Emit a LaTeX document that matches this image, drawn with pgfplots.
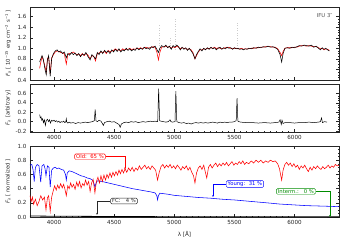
\documentclass[border=0pt]{standalone}
\usepackage{fontspec}
\setmainfont{DejaVu Sans}
\usepackage{pgfplots}
\usepackage{pgfplotstable}
\pgfplotsset{compat=1.18}
\usetikzlibrary{arrows.meta}

\definecolor{oldred}{RGB}{255,0,0}
\definecolor{youngblue}{RGB}{0,0,255}
\definecolor{intgreen}{RGB}{0,140,0}
\definecolor{fcgray}{RGB}{40,40,40}

\pgfplotstableread{
x obs mod
3880 0.74 0.62
3890 0.80 0.74
3900 0.86 0.84
3910 0.80 0.78
3925 0.60 0.65
3935 0.50 0.55
3945 0.78 0.80
3955 0.86 0.84
3968 0.47 0.52
3980 0.80 0.82
3995 0.90 0.88
4010 0.95 0.93
4025 0.97 0.95
4040 0.93 0.94
4055 0.95 0.92
4070 0.90 0.91
4085 0.93 0.90
4102 0.82 0.70
4115 0.90 0.89
4130 0.87 0.90
4145 0.92 0.91
4160 0.88 0.93
4175 0.91 0.90
4190 0.86 0.88
4205 0.90 0.89
4220 0.84 0.86
4235 0.89 0.90
4250 0.87 0.86
4265 0.92 0.90
4280 0.85 0.88
4300 0.78 0.80
4315 0.88 0.86
4330 0.84 0.85
4345 0.80 0.76
4360 0.92 0.90
4375 0.88 0.91
4390 0.95 0.93
4405 0.90 0.92
4420 0.96 0.94
4435 0.92 0.90
4450 0.95 0.96
4465 0.90 0.93
4480 0.97 0.95
4495 0.93 0.96
4510 0.98 0.99
4525 0.94 0.96
4540 0.99 0.97
4555 0.93 0.95
4570 0.97 0.99
4585 0.95 0.97
4600 1.00 0.98
4615 0.96 0.98
4630 0.99 1.00
4645 0.95 0.97
4660 0.98 0.99
4675 0.96 0.98
4690 1.01 1.00
4705 0.97 0.99
4720 1.00 1.01
4735 0.98 0.99
4750 1.02 1.01
4765 0.99 1.02
4780 1.01 1.00
4795 0.98 1.01
4810 1.03 1.02
4825 1.01 1.03
4840 1.04 1.02
4855 0.98 0.93
4868 0.92 0.78
4880 1.00 0.92
4895 1.05 1.02
4915 1.02 1.03
4930 1.06 1.04
4945 1.01 1.02
4960 1.04 1.03
4975 0.98 1.00
4990 1.05 1.03
5005 1.02 1.01
5020 1.06 1.04
5035 1.03 1.02
5050 0.97 0.99
5065 1.02 1.01
5080 0.98 1.00
5095 1.01 0.99
5110 0.96 0.98
5125 1.00 0.99
5140 0.95 0.97
5155 0.90 0.92
5172 0.80 0.80
5185 0.88 0.86
5200 0.94 0.93
5215 0.99 0.97
5230 0.95 0.97
5245 1.00 0.99
5260 0.97 0.98
5275 1.01 1.00
5290 0.98 0.99
5305 1.02 1.01
5320 0.99 1.00
5335 1.01 1.02
5350 0.97 0.99
5365 1.00 1.01
5380 1.02 1.00
5395 0.98 0.99
5410 1.01 1.00
5425 0.99 1.01
5440 1.02 1.01
5455 1.00 1.02
5470 1.01 1.00
5485 0.98 0.99
5500 1.01 1.00
5515 0.99 1.00
5530 1.00 0.99
5545 0.98 0.99
5560 0.99 1.00
5575 0.97 0.98
5590 0.99 0.99
5605 0.98 0.99
5620 1.00 0.99
5640 0.99 1.00
5660 1.01 1.00
5680 1.00 1.01
5700 1.02 1.01
5720 1.01 1.02
5740 1.03 1.02
5760 1.02 1.03
5780 1.04 1.03
5800 1.02 1.03
5820 1.03 1.02
5840 1.01 1.02
5860 0.98 0.99
5880 0.88 0.92
5893 0.74 0.86
5905 0.90 0.94
5920 1.00 1.00
5940 1.01 1.01
5960 1.00 1.01
5980 1.02 1.01
6000 1.01 1.02
6020 1.03 1.02
6040 1.05 1.04
6060 1.04 1.05
6080 1.06 1.05
6100 1.05 1.04
6120 1.04 1.05
6140 1.06 1.04
6160 1.02 1.03
6180 1.04 1.03
6200 1.00 1.01
6215 0.97 0.99
6230 1.01 1.00
6245 0.98 0.97
6260 1.00 0.99
6275 0.97 0.98
6290 0.95 0.96
}\spec

\pgfplotsset{
  every axis/.append style={
    scale only axis, width=309pt, xmin=3800, xmax=6370,
    anchor=south west,
    tick align=inside,
    major tick length=2.6pt, minor tick length=1.3pt,
    xtick={4000,4500,5000,5500,6000},
    minor x tick num=9, minor y tick num=3,
    xtick pos=both, ytick pos=both,
    every tick/.style={black!85, line width=0.35pt},
    axis line style={black!85, line width=0.5pt},
    /pgf/number format/assume math mode=true,
    tick label style={font=\fontsize{5.6}{6.5}\selectfont, black!85},
    xticklabel style={/pgf/number format/1000 sep={}},
    yticklabel style={/pgf/number format/.cd, fixed, fixed zerofill, precision=1},
    ylabel style={at={(axis description cs:-0.071,0.5)}, anchor=center, font=\fontsize{5.3}{6}\selectfont, black!85},
    xlabel style={font=\fontsize{5.6}{6.5}\selectfont, black!85},
    clip=true,
  }
}

\begin{document}
\begin{tikzpicture}
\useasboundingbox (0,0) rectangle (346pt,242pt);

% ---------------- Panel 1 ----------------
\begin{axis}[at={(30pt,162pt)}, height=73pt,
  ymin=0.4, ymax=1.78, ytick={0.4,0.6,0.8,1.0,1.2,1.4,1.6},
  xticklabels={},
  ylabel={\textit{F}\textsubscript{λ} [ 10\textsuperscript{−15} erg cm\textsuperscript{−2} s\textsuperscript{−1} ]}]
\addplot[gray!40, dotted, line width=0.5pt] coordinates {(4875,1.0) (4875,1.45)};
\addplot[gray!40, dotted, line width=0.5pt] coordinates {(4970,1.0) (4970,1.20)};
\addplot[gray!40, dotted, line width=0.5pt] coordinates {(5012,0.98) (5012,1.56)};
\addplot[gray!40, dotted, line width=0.5pt] coordinates {(5525,1.0) (5525,1.50)};
\addplot[oldred, line width=0.55pt] table[x=x, y=mod] {\spec};
\addplot[black, line width=0.55pt] table[x=x, y=obs] {\spec};
\node[anchor=north east, font=\fontsize{5.3}{6}\selectfont, text=black!70] at (axis description cs:0.99,0.96) {IFU 3″};
\end{axis}

% ---------------- Panel 2 ----------------
\begin{axis}[at={(30pt,110pt)}, height=48pt,
  ymin=-0.22, ymax=0.8, ytick={-0.2,0,0.2,0.4,0.6},
  ylabel={\textit{F}\textsubscript{λ} [arbitrary]}]
\addplot[black, line width=0.5pt] coordinates {
(3880,0.15) (3886,0.08) (3892,0.10) (3898,0.03) (3905,0.06) (3912,-0.02) (3920,0.04) (3928,-0.08)
(3935,0.02) (3945,0.05) (3955,0.00) (3962,0.04) (3970,-0.03) (3980,0.03) (3990,0.01) (4000,0.03)
(4010,0.00) (4020,0.02) (4030,-0.01) (4040,0.01) (4050,-0.02) (4060,0.00) (4070,-0.01) (4080,0.01)
(4090,-0.02) (4098,0.00) (4102,0.06) (4106,-0.01) (4115,-0.03) (4125,-0.01) (4140,-0.03) (4160,-0.02)
(4180,-0.04) (4200,-0.02) (4220,-0.03) (4240,-0.02) (4260,-0.01) (4280,-0.02) (4300,-0.01) (4320,0.00)
(4335,0.02) (4342,0.26) (4349,0.02) (4360,0.00) (4375,0.03) (4390,0.01) (4400,-0.03) (4410,-0.08)
(4420,-0.02) (4440,0.00) (4460,0.01) (4480,-0.01) (4500,0.00) (4520,-0.03) (4540,-0.06) (4550,-0.12)
(4560,-0.05) (4580,-0.02) (4600,-0.01) (4620,-0.02) (4640,0.00) (4660,-0.01) (4680,0.00) (4700,-0.02)
(4720,-0.01) (4740,0.00) (4760,-0.01) (4780,0.00) (4800,0.01) (4820,0.00) (4840,0.01) (4862,0.00)
(4870,0.70) (4878,0.02) (4890,0.01) (4910,0.00) (4930,-0.01) (4950,0.00) (4965,0.04) (4972,0.00)
(4985,-0.01) (5006,0.00) (5013,0.65) (5021,0.00) (5040,-0.02) (5060,-0.03) (5080,-0.02) (5100,-0.04)
(5120,-0.03) (5140,-0.05) (5160,-0.03) (5180,-0.02) (5200,-0.03) (5220,-0.02) (5240,-0.03) (5260,-0.02)
(5280,-0.03) (5300,-0.02) (5320,-0.01) (5340,-0.02) (5360,-0.03) (5380,-0.01) (5400,-0.02) (5420,-0.01)
(5440,-0.02) (5460,-0.01) (5480,-0.01) (5500,0.00) (5515,0.02) (5522,0.50) (5529,0.01) (5550,-0.01)
(5600,-0.02) (5650,-0.02) (5700,-0.03) (5750,-0.02) (5800,-0.03) (5840,-0.02) (5870,-0.01) (5880,0.04)
(5890,-0.06) (5896,0.03) (5905,-0.04) (5920,-0.02) (5960,-0.02) (6000,-0.03) (6040,-0.02) (6080,-0.02)
(6120,-0.01) (6160,-0.02) (6200,-0.01) (6215,0.00) (6225,0.08) (6232,-0.02) (6250,0.00) (6270,-0.01)
};
\end{axis}

% ---------------- Panel 3 ----------------
\begin{axis}[at={(30pt,25pt)}, height=71pt,
  ymin=0, ymax=1.0, ytick={0,0.2,0.4,0.6,0.8,1.0},
  ylabel={\textit{F}\textsubscript{λ} [ normalized ]},
  xlabel={λ [Å]}]
% Young (blue)
\addplot[youngblue, line width=0.55pt] coordinates {
(3800,0.73) (3815,0.74) (3826,0.66) (3835,0.50) (3845,0.70) (3860,0.74) (3875,0.72) (3889,0.49)
(3900,0.72) (3915,0.74) (3925,0.68) (3933,0.58) (3945,0.72) (3958,0.70) (3968,0.42) (3980,0.66)
(3995,0.69) (4010,0.70) (4025,0.68) (4040,0.69) (4060,0.67) (4080,0.66) (4095,0.60) (4102,0.52)
(4110,0.62) (4125,0.65) (4150,0.64) (4175,0.62) (4200,0.60) (4225,0.58) (4250,0.57) (4275,0.55)
(4300,0.54) (4320,0.52) (4333,0.47) (4340,0.42) (4348,0.47) (4360,0.51) (4400,0.50) (4450,0.48)
(4500,0.46) (4550,0.44) (4600,0.42) (4650,0.40) (4700,0.385) (4750,0.37) (4800,0.355) (4840,0.34)
(4855,0.30) (4861,0.24) (4868,0.30) (4880,0.335) (4950,0.32) (5000,0.305) (5100,0.29) (5200,0.275)
(5300,0.265) (5400,0.25) (5500,0.24) (5600,0.225) (5700,0.21) (5800,0.195) (5890,0.18) (5900,0.18)
(6000,0.17) (6100,0.16) (6200,0.155) (6300,0.15) (6370,0.145)
};
% FC (black)
\addplot[black, line width=0.8pt] coordinates {(3800,0.014) (4000,0.011) (4500,0.007) (5000,0.004) (6370,0.002)};
% Old (red)
\addplot[oldred, line width=0.55pt] coordinates {
(3800,0.30) (3810,0.22) (3820,0.28) (3830,0.18) (3845,0.25) (3860,0.16) (3875,0.22) (3890,0.30)
(3905,0.24) (3920,0.28) (3933,0.10) (3945,0.27) (3955,0.30) (3968,0.08) (3980,0.28) (3992,0.36)
(4005,0.44) (4018,0.38) (4030,0.45) (4042,0.40) (4055,0.47) (4068,0.41) (4080,0.46) (4092,0.38)
(4102,0.30) (4114,0.44) (4126,0.40) (4138,0.48) (4150,0.42) (4162,0.46) (4175,0.39) (4188,0.49)
(4200,0.43) (4212,0.50) (4225,0.41) (4238,0.47) (4250,0.44) (4262,0.52) (4275,0.45) (4288,0.50)
(4300,0.36) (4312,0.48) (4325,0.53) (4340,0.34) (4352,0.50) (4365,0.56) (4378,0.48) (4390,0.58)
(4402,0.50) (4415,0.59) (4428,0.52) (4440,0.60) (4452,0.55) (4465,0.62) (4478,0.56) (4490,0.63)
(4502,0.58) (4515,0.64) (4528,0.59) (4540,0.66) (4552,0.61) (4565,0.67) (4578,0.62) (4590,0.68)
(4605,0.63) (4620,0.69) (4635,0.65) (4650,0.70) (4665,0.64) (4680,0.69) (4695,0.66) (4710,0.72)
(4725,0.67) (4740,0.70) (4755,0.73) (4770,0.68) (4785,0.71) (4800,0.67) (4815,0.72) (4830,0.69)
(4845,0.66) (4861,0.52) (4875,0.63) (4890,0.71) (4905,0.74) (4920,0.69) (4935,0.73) (4950,0.70)
(4965,0.74) (4980,0.69) (4995,0.72) (5010,0.68) (5025,0.73) (5040,0.70) (5055,0.66) (5070,0.71)
(5085,0.68) (5100,0.72) (5115,0.66) (5130,0.70) (5145,0.63) (5160,0.58) (5172,0.48) (5185,0.62)
(5200,0.69) (5215,0.72) (5230,0.67) (5245,0.73) (5260,0.62) (5270,0.55) (5285,0.70) (5300,0.74)
(5315,0.69) (5330,0.73) (5345,0.76) (5360,0.71) (5375,0.75) (5390,0.72) (5405,0.76) (5420,0.73)
(5435,0.77) (5450,0.72) (5465,0.75) (5480,0.78) (5495,0.73) (5510,0.76) (5525,0.74) (5540,0.78)
(5555,0.75) (5570,0.79) (5585,0.74) (5600,0.77) (5620,0.75) (5640,0.79) (5660,0.76) (5680,0.80)
(5700,0.77) (5720,0.80) (5740,0.76) (5760,0.79) (5780,0.77) (5800,0.80) (5820,0.78) (5840,0.79)
(5860,0.75) (5875,0.68) (5893,0.52) (5905,0.66) (5920,0.74) (5935,0.77) (5950,0.73) (5965,0.76)
(5980,0.71) (5995,0.75) (6010,0.70) (6025,0.73) (6040,0.67) (6055,0.72) (6070,0.69) (6085,0.73)
(6100,0.68) (6115,0.64) (6130,0.70) (6145,0.66) (6160,0.71) (6175,0.68) (6190,0.72) (6205,0.69)
(6220,0.67) (6235,0.71) (6250,0.68) (6265,0.70) (6280,0.73) (6295,0.69) (6310,0.72) (6325,0.70)
(6340,0.74) (6355,0.72) (6370,0.73)
};
% annotation boxes
\tikzset{lab/.style={draw=#1, text=#1, fill=white, rounded corners=1.2pt, inner xsep=1.5pt, inner ysep=0.8pt, line width=0.45pt, font=\fontsize{5.3}{6}\selectfont},
         con/.style={draw=#1, line width=0.4pt, -{Stealth[length=2pt,width=1.6pt]}}}
\node[lab=oldred] (old) at (axis cs:4299,0.85) {Old:\ \ 65 \%};
\draw[con=oldred] (old.east) -| (axis cs:4590,0.67);
\node[lab=fcgray] (fc) at (axis cs:4582,0.225) {FC:\ \ \ 4 \%};
\draw[con=fcgray] (fc.west) -| (axis cs:4357,0.03);
\node[lab=youngblue] (yg) at (axis cs:5588,0.465) {Young:\ \ 31 \%};
\draw[con=youngblue] (yg.west) -| (axis cs:5322,0.28);
\node[lab=intgreen] (im) at (axis cs:6012,0.36) {Interm.:\ \ \ 0 \%};
\draw[con=intgreen] (im.east) -| (axis cs:6295,0.0);
\end{axis}
\end{tikzpicture}
\end{document}
